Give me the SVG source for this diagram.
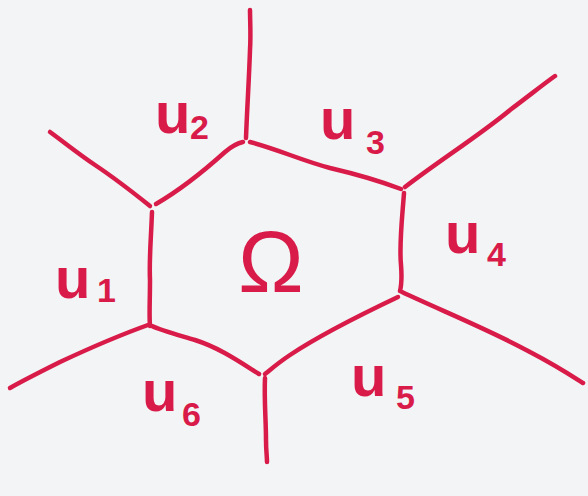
<svg xmlns="http://www.w3.org/2000/svg" width="588" height="496" viewBox="0 0 588 496">
<style>
.ln{fill:none;stroke:#d81b48;stroke-width:4.5;stroke-linecap:round;stroke-linejoin:round}
.lb{font-family:"Liberation Sans",Arial,sans-serif;fill:#d81b48;font-weight:bold}
.u{font-size:58px}
.s{font-size:34px}
.om{font-size:88px;font-weight:normal}
</style>
<rect width="588" height="496" fill="#f3f4f6"/>
<g id="connectors">
<path class="ln" d="M152,212 C151,240 149,260 150,280 C150,300 149,315 150,326"/>
<path class="ln" d="M156,204 C180,190 205,170 225,152 C232,146 238,143 243,142"/>
<path class="ln" d="M250,142 C280,150 300,160 330,168 C360,175 385,183 401,189"/>
<path class="ln" d="M404,193 C402,220 399,245 401,265 C402,278 401,287 400,291"/>
<path class="ln" d="M398,297 C360,315 320,335 290,355 C278,363 270,370 265,374"/>
<path class="ln" d="M259,374 C240,362 220,348 195,340 C175,334 160,330 152,326"/>
<path class="ln" d="M150,206 C130,190 110,175 95,165 C80,155 65,143 50,132"/>
<path class="ln" d="M246,138 C247,110 249,80 250,50 C251,35 250,20 250,10"/>
<path class="ln" d="M405,187 C440,160 480,135 510,110 C530,95 545,83 555,76"/>
<path class="ln" d="M402,292 C440,310 490,330 530,352 C555,365 572,376 583,383"/>
<path class="ln" d="M265,378 C264,400 266,420 266,440 C266,450 267,457 267,462"/>
<path class="ln" d="M148,325 C120,335 90,348 60,362 C40,372 22,381 10,388"/>
</g>
<g id="cell-omega"><text class="lb om" x="271" y="292" text-anchor="middle">Ω</text></g>
<g id="u1"><text class="lb u" x="55" y="298">u</text><text class="lb s" x="97" y="302">1</text></g>
<g id="u2"><text class="lb u" x="155" y="133">u</text><text class="lb s" x="190" y="139">2</text></g>
<g id="u3"><text class="lb u" x="320" y="139">u</text><text class="lb s" x="366" y="154">3</text></g>
<g id="u4"><text class="lb u" x="445" y="253">u</text><text class="lb s" x="487" y="266">4</text></g>
<g id="u5"><text class="lb u" x="351" y="396">u</text><text class="lb s" x="396" y="409">5</text></g>
<g id="u6"><text class="lb u" x="142" y="411">u</text><text class="lb s" x="182" y="426">6</text></g>
</svg>
